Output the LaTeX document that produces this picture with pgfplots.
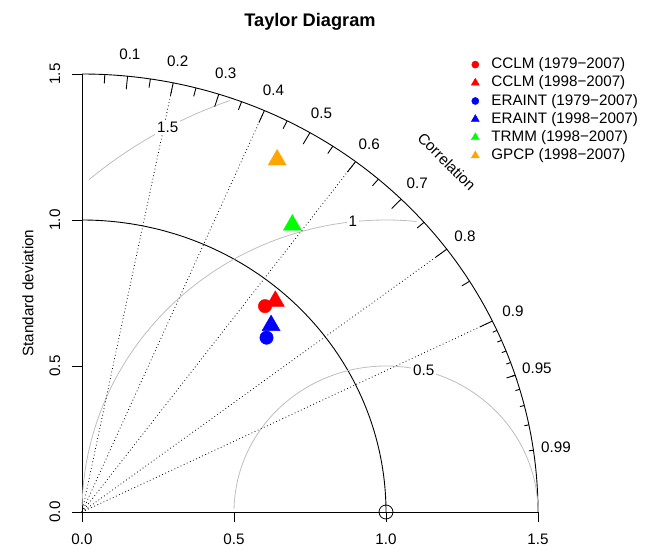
\documentclass[border=0pt]{standalone}
\usepackage{pgfplots}
\pgfplotsset{compat=1.18}
\usepackage{fontspec}
\setmainfont{Liberation Sans}
\definecolor{arcgray}{RGB}{190,190,190}
\definecolor{rorange}{RGB}{255,165,0}
\begin{document}
\begin{tikzpicture}[font=\fontsize{15.2}{18}\selectfont]
\begin{axis}[
  scale only axis, width=456pt, height=438pt,
  xmin=0, xmax=1.5, ymin=0, ymax=1.5,
  clip=false,
  axis x line=bottom, axis y line=left,
  axis line style={-, line width=0.9pt},
  xtick={0,0.5,1,1.5}, ytick={0,0.5,1,1.5},
  xticklabels={0.0,0.5,1.0,1.5}, yticklabels={0.0,0.5,1.0,1.5},
  tick align=outside, major tick length=10pt,
  tick style={black, line width=0.9pt},
  xticklabel style={anchor=center, inner sep=0pt, yshift=-17.5pt},
  yticklabel style={rotate=90, anchor=center, inner sep=0pt, yshift=17pt},
  ylabel={Standard deviation},
  ylabel style={at={(axis description cs:0,0.5)}, anchor=center, yshift=54pt},
  title={Taylor Diagram},
  title style={at={(0.5,1)}, anchor=base, yshift=41pt, font=\fontsize{18.2}{20}\selectfont\bfseries},
  legend style={at={(axis cs:1.2767,1.5640)}, anchor=north west, draw=none, fill=none,
    inner sep=0pt, row sep=0pt, column sep=0pt,
    cells={anchor=west},
    nodes={inner sep=2.1pt, text height=11pt, text depth=3pt}},
]
\coordinate (O) at (axis cs:0,0);
% outer arc and reference sd arc
\addplot[forget plot, domain=0:90, samples=91, black, line width=0.9pt] ({1.5*cos(x)},{1.5*sin(x)});
\addplot[forget plot, domain=0:90, samples=91, black, line width=0.9pt] ({cos(x)},{sin(x)});
% RMS arcs
\addplot[forget plot, domain=0:178.76, samples=120, arcgray, line width=0.8pt] ({1+0.5*cos(x)},{0.5*sin(x)});
\addplot[forget plot, domain=84.23:178.76, samples=90, arcgray, line width=0.8pt] ({1+cos(x)},{sin(x)});
\addplot[forget plot, domain=110.01:130.63, samples=30, arcgray, line width=0.8pt] ({1+1.5*cos(x)},{1.5*sin(x)});
% radial correlation lines
\addplot[forget plot, black, line width=0.8pt, dash pattern=on 0.8pt off 2.6pt] coordinates {(0,0) (0.3,1.46969)};
\addplot[forget plot, black, line width=0.8pt, dash pattern=on 0.8pt off 2.6pt] coordinates {(0,0) (0.6,1.37477)};
\addplot[forget plot, black, line width=0.8pt, dash pattern=on 0.8pt off 2.6pt] coordinates {(0,0) (0.9,1.2)};
\addplot[forget plot, black, line width=0.8pt, dash pattern=on 0.8pt off 2.6pt] coordinates {(0,0) (1.2,0.9)};
\addplot[forget plot, black, line width=0.8pt, dash pattern=on 0.8pt off 2.6pt] coordinates {(0,0) (1.35,0.65383)};
% correlation ticks
\pgfplotsinvokeforeach{0.1,0.2,0.3,0.4,0.5,0.6,0.7,0.8,0.9}{
  \draw[line width=0.9pt] (axis cs:{1.5*#1},{1.5*sqrt(1-#1*#1)}) -- (axis cs:{1.455*#1},{1.455*sqrt(1-#1*#1)});
}
\pgfplotsinvokeforeach{0.05,0.15,0.25,0.35,0.45,0.55,0.65,0.75,0.85,0.95}{
  \draw[line width=0.9pt] (axis cs:{1.5*#1},{1.5*sqrt(1-#1*#1)}) -- (axis cs:{1.47*#1},{1.47*sqrt(1-#1*#1)});
}
\pgfplotsinvokeforeach{0.91,0.92,0.93,0.94,0.95,0.96,0.97,0.98,0.99}{
  \draw[line width=0.9pt] (axis cs:{1.5*#1},{1.5*sqrt(1-#1*#1)}) -- (axis cs:{1.485*#1},{1.485*sqrt(1-#1*#1)});
}
% correlation labels
\addplot[forget plot, draw=none, mark=none, nodes near coords, point meta=explicit symbolic,
  every node near coord/.append style={anchor=center, inner sep=0pt}]
  coordinates {
  (0.1575,1.5671) [0.1]
  (0.3150,1.5432) [0.2]
  (0.4725,1.5025) [0.3]
  (0.6300,1.4435) [0.4]
  (0.7875,1.3640) [0.5]
  (0.9450,1.2600) [0.6]
  (1.1025,1.1248) [0.7]
  (1.2600,0.9450) [0.8]
  (1.4175,0.6865) [0.9]
  (1.4963,0.4918) [0.95]
  (1.5593,0.2222) [0.99]
  };
% RMS labels
\addplot[forget plot, draw=none, mark=none, nodes near coords, point meta=explicit symbolic,
  every node near coord/.append style={anchor=center, fill=white, inner sep=2pt}]
  coordinates {
  (1.1241,0.4844) [0.5]
  (0.8910,0.9940) [1]
  (0.2821,1.3170) [1.5]
  };
\node[rotate=-45] at (axis cs:1.2,1.2) {Correlation};
% reference point
\addplot[forget plot, only marks, mark=o, mark size=7pt, black, line width=0.8pt] coordinates {(1,0)};
% data
\addplot[only marks, mark=*, red, mark size=6.7pt,
  legend image code/.code={\path[draw=none,fill=none] (-5pt,0pt) -- (14pt,0pt); \fill[red] (0pt,0pt) circle (3.6pt);}]
  coordinates {(0.602,0.705)};
\addlegendentry{CCLM (1979−2007)}
\addplot[only marks, mark=triangle*, red, mark size=10.4pt,
  legend image code/.code={\path[draw=none,fill=none] (-5pt,0pt) -- (14pt,0pt); \fill[red] (0pt,4.6pt) -- (4pt,-2.3pt) -- (-4pt,-2.3pt) -- cycle;}]
  coordinates {(0.636,0.722)};
\addlegendentry{CCLM (1998−2007)}
\addplot[only marks, mark=*, blue, mark size=6.7pt,
  legend image code/.code={\path[draw=none,fill=none] (-5pt,0pt) -- (14pt,0pt); \fill[blue] (0pt,0pt) circle (3.6pt);}]
  coordinates {(0.607,0.597)};
\addlegendentry{ERAINT (1979−2007)}
\addplot[only marks, mark=triangle*, blue, mark size=10.4pt,
  legend image code/.code={\path[draw=none,fill=none] (-5pt,0pt) -- (14pt,0pt); \fill[blue] (0pt,4.6pt) -- (4pt,-2.3pt) -- (-4pt,-2.3pt) -- cycle;}]
  coordinates {(0.622,0.639)};
\addlegendentry{ERAINT (1998−2007)}
\addplot[only marks, mark=triangle*, green, mark size=10.4pt,
  legend image code/.code={\path[draw=none,fill=none] (-5pt,0pt) -- (14pt,0pt); \fill[green] (0pt,4.6pt) -- (4pt,-2.3pt) -- (-4pt,-2.3pt) -- cycle;}]
  coordinates {(0.692,0.983)};
\addlegendentry{TRMM (1998−2007)}
\addplot[only marks, mark=triangle*, rorange, mark size=10.4pt,
  legend image code/.code={\path[draw=none,fill=none] (-5pt,0pt) -- (14pt,0pt); \fill[rorange] (0pt,4.6pt) -- (4pt,-2.3pt) -- (-4pt,-2.3pt) -- cycle;}]
  coordinates {(0.642,1.206)};
\addlegendentry{GPCP (1998−2007)}
\end{axis}
\pgfresetboundingbox
\path ([shift={(-82pt,-37pt)}]O) rectangle ([shift={(564pt,512pt)}]O);
\end{tikzpicture}
\end{document}
